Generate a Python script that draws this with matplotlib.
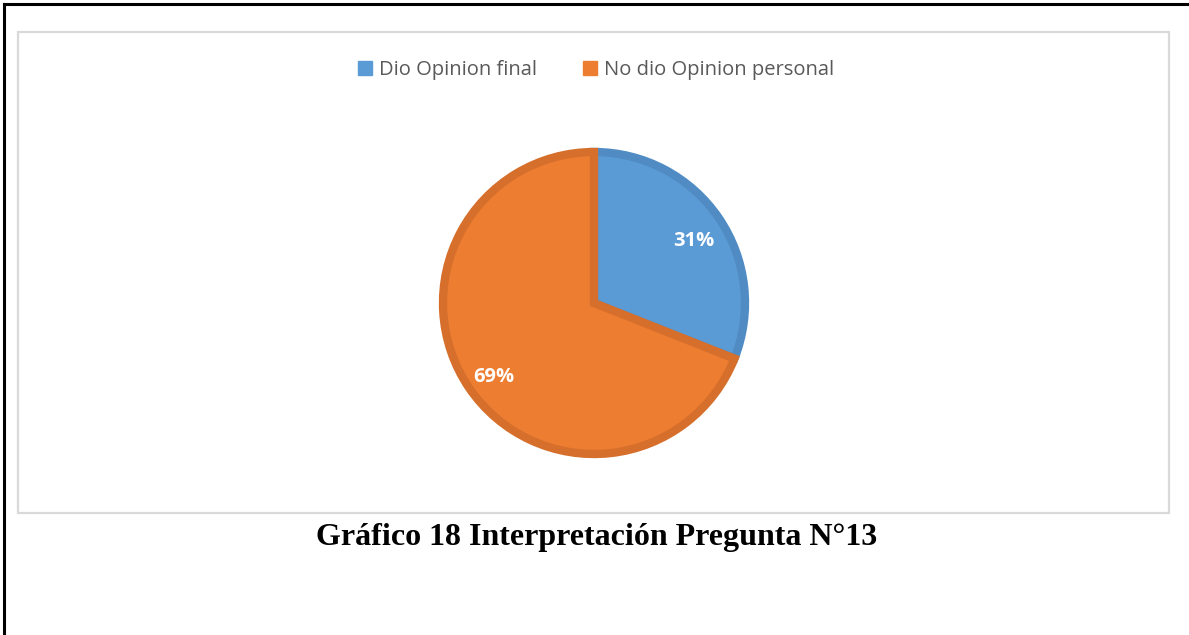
import matplotlib
matplotlib.use("Agg")
import matplotlib.pyplot as plt
from matplotlib.patches import Rectangle, Patch
from matplotlib.lines import Line2D

categories = ["Dio Opinion final", "No dio Opinion personal"]
values = [31, 69]
fill_colors = ["#5b9bd5", "#ed7d31"]
edge_colors = ["#508cc3", "#d66f2b"]
title = "Gráfico 18 Interpretación Pregunta N°13"

W, H = 1189, 635
fig = plt.figure(figsize=(W / 100, H / 100), dpi=100)
fig.patch.set_facecolor("white")

def fx(px):
    return px / W

def fy(py):
    return 1 - py / H

# page border (left and top)
fig.add_artist(Line2D([fx(4), fx(4)], [fy(4), fy(H + 5)], color="black", lw=2.2,
                      transform=fig.transFigure, solid_capstyle="projecting"))
fig.add_artist(Line2D([fx(4), fx(W + 5)], [fy(4), fy(4)], color="black", lw=2.2,
                      transform=fig.transFigure, solid_capstyle="projecting"))

# chart area frame
fig.add_artist(Rectangle((fx(18), fy(513)), fx(1169) - fx(18), fy(32) - fy(513),
                         transform=fig.transFigure, fill=False,
                         edgecolor="#d9d9d9", lw=1.6))

# pie axes, in pixel units around the centre
cx, cy, half = 594, 303, 170
ax = fig.add_axes([fx(cx - half), fy(cy + half), 2 * half / W, 2 * half / H])

wedges, _, autotexts = ax.pie(
    values, colors=fill_colors, startangle=90, counterclock=False,
    radius=151, autopct="%d%%", pctdistance=0.8,
    wedgeprops=dict(linewidth=6, joinstyle="miter"),
    textprops=dict(color="white", fontsize=14.5, fontweight="bold", family="Open Sans"),
)
for w, ec in zip(wedges, edge_colors):
    w.set_edgecolor(ec)
for t in autotexts:
    x, y = t.get_position()
    t.set_position((x, y - 6))
ax.set_xlim(-half, half)
ax.set_ylim(-half, half)
ax.set_aspect("equal")
ax.axis("off")

handles = [Patch(facecolor=c, edgecolor=c) for c in fill_colors]
fig.legend(handles, categories, loc="center", bbox_to_anchor=(fx(596), fy(70)),
           ncol=2, frameon=False, handlelength=0.7, handleheight=0.7,
           handletextpad=0.35, columnspacing=2.3,
           prop=dict(family="Open Sans", size=14.5), labelcolor="#595959")

fig.text(fx(597), fy(537), title, ha="center", va="center",
         family="Liberation Serif", fontweight="bold", fontsize=23, color="black")

fig.savefig("out.png", dpi=100)
